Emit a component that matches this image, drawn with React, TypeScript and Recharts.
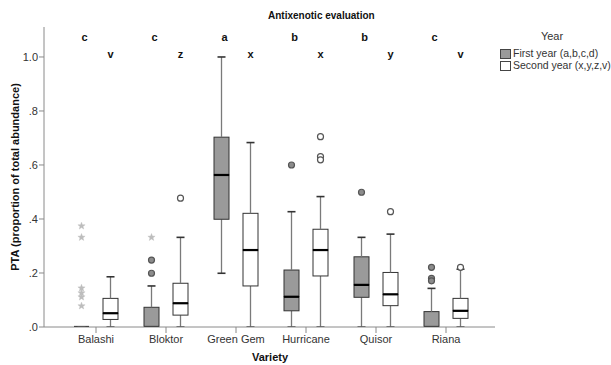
import React from 'react';
import { ComposedChart, Bar, Scatter, XAxis, YAxis, Legend } from 'recharts';

const varieties = ['Balashi', 'Bloktor', 'Green Gem', 'Hurricane', 'Quisor', 'Riana'];

const firstMin = [0, 0, 0.199, 0, 0, 0];
const firstQ1 = [0, 0, 0.399, 0.06, 0.11, 0];
const firstMedian = [0, 0, 0.563, 0.112, 0.156, 0];
const firstQ3 = [0, 0.073, 0.703, 0.211, 0.26, 0.057];
const firstMax = [0, 0.152, 1.0, 0.427, 0.332, 0.143];

const secondMin = [0, 0, 0, 0, 0, 0];
const secondQ1 = [0.028, 0.044, 0.152, 0.189, 0.079, 0.032];
const secondMedian = [0.051, 0.088, 0.285, 0.285, 0.121, 0.06];
const secondQ3 = [0.106, 0.162, 0.421, 0.362, 0.202, 0.106];
const secondMax = [0.186, 0.332, 0.683, 0.483, 0.344, 0.214];

const firstOutliers: [string, number][] = [
  ['Bloktor', 0.248], ['Bloktor', 0.199], ['Hurricane', 0.6], ['Quisor', 0.499],
  ['Riana', 0.221], ['Riana', 0.18], ['Riana', 0.171],
];
const firstExtremes: [string, number][] = [
  ['Balashi', 0.374], ['Balashi', 0.332], ['Balashi', 0.144], ['Balashi', 0.126],
  ['Balashi', 0.111], ['Balashi', 0.078], ['Bloktor', 0.332],
];
const secondOutliers: [string, number][] = [
  ['Bloktor', 0.477], ['Hurricane', 0.705], ['Hurricane', 0.631], ['Hurricane', 0.619],
  ['Quisor', 0.427], ['Riana', 0.221],
];

const firstLetters = ['c', 'c', 'a', 'b', 'b', 'c'];
const secondLetters = ['v', 'z', 'x', 'x', 'y', 'v'];

const yTicks = [0, 0.2, 0.4, 0.6, 0.8, 1.0];
const yTickLabels = ['.0', '.2', '.4', '.6', '.8', '1.0'];

const legendTitle = 'Year';
const legendItems = ['First year (a,b,c,d)', 'Second year (x,y,z,v)'];
const chartTitle = 'Antixenotic evaluation';
const xTitle = 'Variety';
const yTitle = 'PTA (proportion of total abundance)';

// style constants
const FONT = '"Liberation Sans", Arial, sans-serif';
const FILLS = ['#9a9a9a', '#ffffff'];
const BAR_SIZE = 15;
const BAR_GAP = 14;
const GROUP_OFFSET = (BAR_SIZE + BAR_GAP) / 2;
const LETTER_Y = [1.074, 1.011];

const data = varieties.map((v, i) => ({
  variety: v,
  aBase: firstMin[i],
  aW1: firstQ1[i] - firstMin[i],
  aB1: firstMedian[i] - firstQ1[i],
  aB2: firstQ3[i] - firstMedian[i],
  aW2: firstMax[i] - firstQ3[i],
  bBase: secondMin[i],
  bW1: secondQ1[i] - secondMin[i],
  bB1: secondMedian[i] - secondQ1[i],
  bB2: secondQ3[i] - secondMedian[i],
  bW2: secondMax[i] - secondQ3[i],
}));

const toPts = (arr: [string, number][]) => arr.map(([n, y]) => ({ xi: varieties.indexOf(n), y }));
const letterPts = (arr: string[], k: number) => arr.map((t, i) => ({ xi: i, y: LETTER_Y[k], t }));

const Empty = () => <g />;

const WhiskerLow = (p: any) => {
  const cx = p.x + p.width / 2;
  const y2 = p.y + p.height;
  return (
    <g>
      <line x1={cx} x2={cx} y1={p.y} y2={y2} stroke="#7a7a7a" strokeWidth={1.3} />
      <line x1={cx - 4} x2={cx + 4} y1={y2} y2={y2} stroke="#333" strokeWidth={1.6} />
    </g>
  );
};
const WhiskerHigh = (p: any) => {
  const cx = p.x + p.width / 2;
  return (
    <g>
      <line x1={cx} x2={cx} y1={p.y} y2={p.y + p.height} stroke="#7a7a7a" strokeWidth={1.3} />
      <line x1={cx - 4} x2={cx + 4} y1={p.y} y2={p.y} stroke="#333" strokeWidth={1.6} />
    </g>
  );
};
const makeBoxLow = (fill: string) => (p: any) => (
  <rect x={p.x} y={p.y} width={p.width} height={Math.max(0, p.height)} fill={fill} stroke="#333" strokeWidth={1} />
);
const makeBoxHigh = (fill: string) => (p: any) => (
  <g>
    <rect x={p.x} y={p.y} width={p.width} height={Math.max(0, p.height)} fill={fill} stroke="#333" strokeWidth={1} />
    <line x1={p.x} x2={p.x + p.width} y1={p.y + p.height} y2={p.y + p.height} stroke="#000" strokeWidth={2.2} />
  </g>
);

const makeCircle = (fill: string, dx: number) => (p: any) => (
  <circle cx={p.cx + dx} cy={p.cy} r={3} fill={fill} stroke="#555" strokeWidth={1.2} />
);
const makeStar = (dx: number) => (p: any) => {
  const pts: string[] = [];
  for (let k = 0; k < 10; k++) {
    const r = k % 2 === 0 ? 3.8 : 1.6;
    const a = -Math.PI / 2 + (k * Math.PI) / 5;
    pts.push(`${p.cx + dx + r * Math.cos(a)},${p.cy + r * Math.sin(a)}`);
  }
  return <polygon points={pts.join(' ')} fill="#bdbdbd" stroke="#bdbdbd" strokeWidth={0.4} />;
};
const makeLetter = (dx: number) => (p: any) => (
  <text x={p.cx + dx} y={p.cy} textAnchor="middle" dominantBaseline="central" fontFamily={FONT}
    fontSize={11} fontWeight="bold" fill="#111">{p.payload.t}</text>
);

const renderLegend = () => (
  <div style={{ position: 'relative', width: 111, height: 45, fontFamily: FONT, fontSize: 10.5, color: '#333' }}>
    <div style={{ position: 'absolute', left: 0, top: 0, width: 104, textAlign: 'center', fontSize: 11, lineHeight: '13px' }}>{legendTitle}</div>
    {legendItems.map((t, i) => (
      <div key={t} style={{ position: 'absolute', left: 0, top: 17 + i * 12, height: 13, display: 'flex', alignItems: 'center', whiteSpace: 'nowrap', lineHeight: '13px' }}>
        <span style={{ display: 'inline-block', width: 9, height: 8, border: '1px solid #444', background: FILLS[i], marginRight: 2 }} />
        {t}
      </div>
    ))}
  </div>
);

export default function App() {
  return (
    <div style={{ position: 'absolute', left: 0, top: 0, width: 611, height: 365, background: '#fff' }}>
      <ComposedChart width={611} height={365} data={data} barGap={BAR_GAP} barSize={BAR_SIZE}
        margin={{ top: 27, right: 116, bottom: 8, left: 0 }}>
        <XAxis xAxisId="c" dataKey="variety" type="category" height={30} padding={{ left: 17, right: 14 }}
          axisLine={{ stroke: '#8a8a8a' }} tickLine={{ stroke: '#8a8a8a' }} tickSize={6} tickMargin={2}
          tick={{ fontSize: 11, fill: '#333', fontFamily: FONT }} interval={0} />
        <XAxis xAxisId="n" dataKey="xi" type="number" domain={[-0.5, 5.5]} hide height={0}
          padding={{ left: 17, right: 14 }} allowDataOverflow />
        <YAxis domain={[0, 1.111]} ticks={yTicks} width={44} allowDataOverflow
          tickFormatter={(v: number) => yTickLabels[yTicks.indexOf(v)] ?? ''}
          axisLine={{ stroke: '#8a8a8a' }} tickLine={{ stroke: '#8a8a8a' }} tickSize={5} tickMargin={1}
          tick={{ fontSize: 11, fill: '#333', fontFamily: FONT }} />

        <Bar xAxisId="c" dataKey="aBase" stackId="a" shape={Empty} isAnimationActive={false} legendType="none" />
        <Bar xAxisId="c" dataKey="aW1" stackId="a" shape={WhiskerLow} isAnimationActive={false} legendType="none" />
        <Bar xAxisId="c" dataKey="aB1" stackId="a" shape={makeBoxLow(FILLS[0])} isAnimationActive={false} legendType="none" />
        <Bar xAxisId="c" dataKey="aB2" stackId="a" shape={makeBoxHigh(FILLS[0])} isAnimationActive={false} legendType="none" />
        <Bar xAxisId="c" dataKey="aW2" stackId="a" shape={WhiskerHigh} isAnimationActive={false} legendType="none" />

        <Bar xAxisId="c" dataKey="bBase" stackId="b" shape={Empty} isAnimationActive={false} legendType="none" />
        <Bar xAxisId="c" dataKey="bW1" stackId="b" shape={WhiskerLow} isAnimationActive={false} legendType="none" />
        <Bar xAxisId="c" dataKey="bB1" stackId="b" shape={makeBoxLow(FILLS[1])} isAnimationActive={false} legendType="none" />
        <Bar xAxisId="c" dataKey="bB2" stackId="b" shape={makeBoxHigh(FILLS[1])} isAnimationActive={false} legendType="none" />
        <Bar xAxisId="c" dataKey="bW2" stackId="b" shape={WhiskerHigh} isAnimationActive={false} legendType="none" />

        <Scatter xAxisId="n" data={toPts(firstExtremes)} dataKey="y" shape={makeStar(-GROUP_OFFSET)} isAnimationActive={false} legendType="none" />
        <Scatter xAxisId="n" data={toPts(firstOutliers)} dataKey="y" shape={makeCircle('#8c8c8c', -GROUP_OFFSET)} isAnimationActive={false} legendType="none" />
        <Scatter xAxisId="n" data={toPts(secondOutliers)} dataKey="y" shape={makeCircle('#ffffff', GROUP_OFFSET)} isAnimationActive={false} legendType="none" />
        <Scatter xAxisId="n" data={letterPts(firstLetters, 0)} dataKey="y" shape={makeLetter(-GROUP_OFFSET + 3)} isAnimationActive={false} legendType="none" />
        <Scatter xAxisId="n" data={letterPts(secondLetters, 1)} dataKey="y" shape={makeLetter(GROUP_OFFSET)} isAnimationActive={false} legendType="none" />

        <Legend layout="horizontal" verticalAlign="middle" align="center" content={renderLegend}
          wrapperStyle={{ left: 500, top: 30, width: 111, height: 45 }} />
      </ComposedChart>
      <svg width={611} height={365} style={{ position: 'absolute', left: 0, top: 0, pointerEvents: 'none' }}>
        <text x={268} y={15} dominantBaseline="central" fontFamily={FONT} fontSize={10} fontWeight="bold" fill="#111">{chartTitle}</text>
        <text x={270} y={357} textAnchor="middle" dominantBaseline="central" fontFamily={FONT} fontSize={11} fontWeight="bold" fill="#111">{xTitle}</text>
        <text transform="translate(15,177) rotate(-90)" textAnchor="middle" dominantBaseline="central" fontFamily={FONT} fontSize={11} fontWeight="bold" fill="#111">{yTitle}</text>
      </svg>
    </div>
  );
}
